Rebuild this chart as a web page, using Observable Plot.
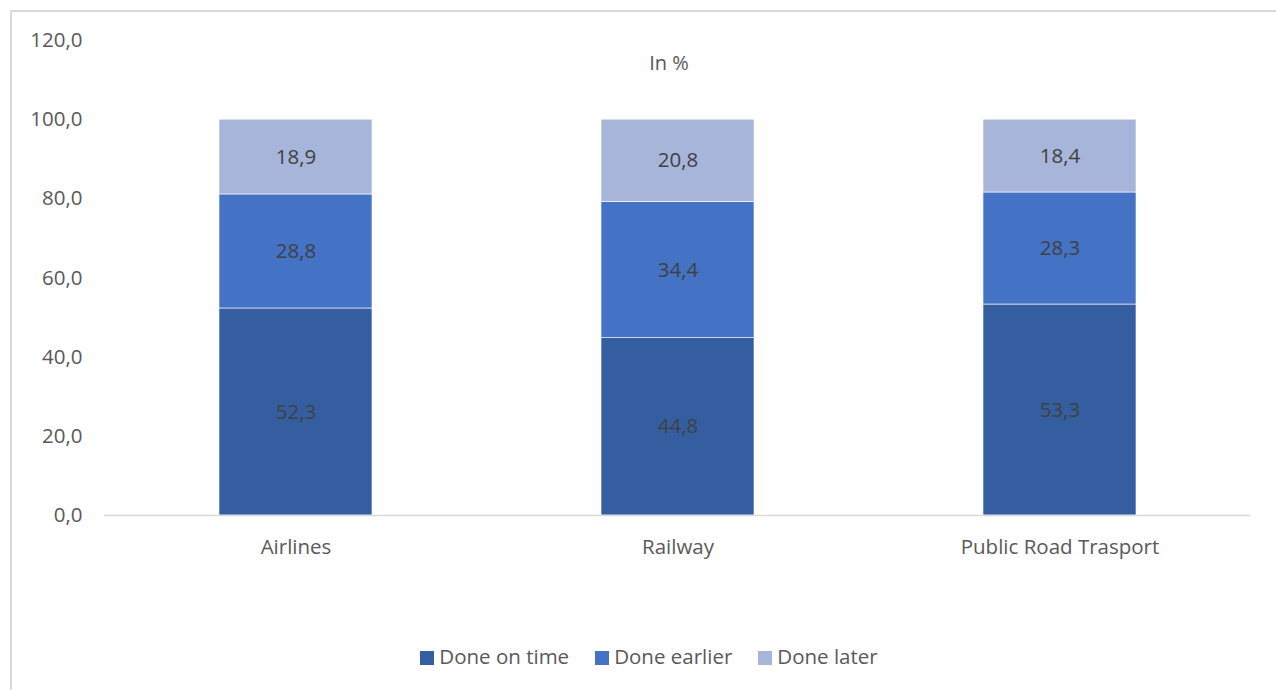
<!DOCTYPE html>
<html><head><meta charset="utf-8">
<script src="https://cdn.jsdelivr.net/npm/d3@7"></script>
<script src="https://cdn.jsdelivr.net/npm/@observablehq/plot@0.6"></script>
<style>
body{margin:0;background:#fff;font-family:"Open Sans",sans-serif;}
#wrap{position:relative;width:1276px;height:690px;overflow:hidden;}
#frame{position:absolute;left:10px;top:10px;width:1300px;height:700px;border:2px solid #d9d9d9;box-sizing:border-box;pointer-events:none;}
#title{position:absolute;left:0;width:1338px;top:49px;text-align:center;font-size:20px;color:#595959;}
#legend{position:absolute;top:642px;left:0;width:1298px;text-align:center;font-size:20.5px;color:#595959;}
#legend span.item{margin:0 13px;white-space:nowrap;}
#legend span.sw{display:inline-block;width:14px;height:14px;margin-right:5px;vertical-align:-1px;}
#chart{position:absolute;left:0;top:0;}
</style></head>
<body><div id="wrap"><div id="chart"></div><div id="title">In %</div><div id="legend"></div><div id="frame"></div></div>
<script>
const categories = ["Airlines", "Railway", "Public Road Trasport"];
const series = ["Done on time", "Done earlier", "Done later"];
const doneOnTime = [52.3, 44.8, 53.3];
const doneEarlier = [28.8, 34.4, 28.3];
const doneLater = [18.9, 20.8, 18.4];
const colors = ["#355ea1", "#4472c4", "#a7b5da"];
const yTicks = [0, 20, 40, 60, 80, 100, 120];

const valuesBySeries = [doneOnTime, doneEarlier, doneLater];
const data = [];
categories.forEach((c, i) => series.forEach((s, j) => data.push({category: c, series: s, value: valuesBySeries[j][i]})));
const fmt = v => v.toFixed(1).replace(".", ",");

const plot = Plot.plot({
  width: 1276, height: 560,
  marginTop: 40, marginBottom: 45, marginLeft: 104, marginRight: 26,
  style: {fontFamily: "'Open Sans', sans-serif", fontSize: "20px", color: "#595959", background: "transparent"},
  x: {domain: categories, paddingInner: 0.6, paddingOuter: 0.3, label: null, axis: null},
  y: {domain: [0, 120], label: null, axis: null},
  color: {domain: series, range: colors},
  marks: [
    Plot.axisY({ticks: yTicks, tickFormat: fmt, tickSize: 0, tickPadding: 22, fontSize: 20.5, label: null, fill: "#595959"}),
    Plot.axisX({tickSize: 0, tickPadding: 24, fontSize: 20.5, label: null, fill: "#595959"}),
    Plot.barY(data, Plot.stackY({x: "category", y: "value", fill: "series", order: series, stroke: "#fff", strokeWidth: 0.6})),
    Plot.text(data, Plot.stackY({x: "category", y: "value", z: "series", order: series, text: d => fmt(d.value), fill: "#404040", fontSize: 20.5})),
    Plot.ruleY([0], {stroke: "#d9d9d9", strokeWidth: 1.5})
  ]
});
document.getElementById("chart").appendChild(plot);

const legend = document.getElementById("legend");
series.forEach((s, i) => {
  const item = document.createElement("span");
  item.className = "item";
  const sw = document.createElement("span");
  sw.className = "sw";
  sw.style.background = colors[i];
  item.appendChild(sw);
  item.appendChild(document.createTextNode(s));
  legend.appendChild(item);
});
</script></body></html>
